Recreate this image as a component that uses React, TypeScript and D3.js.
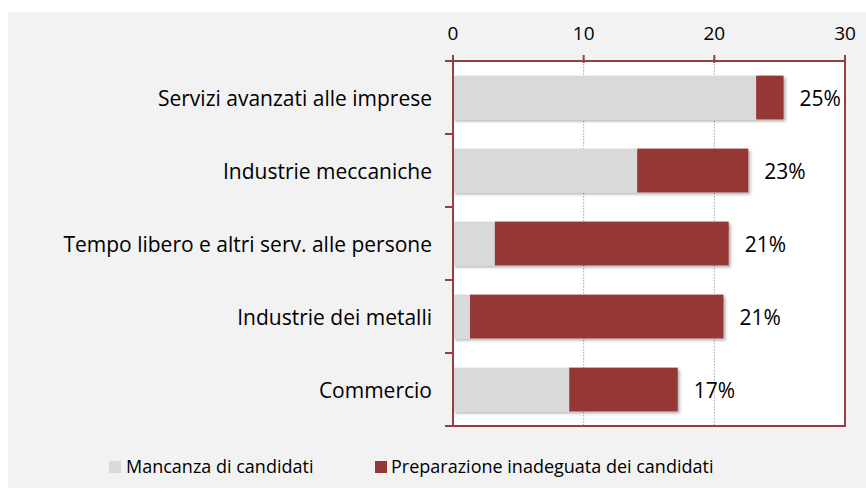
import * as d3 from "d3";

const categories = [
  "Servizi avanzati alle imprese",
  "Industrie meccaniche",
  "Tempo libero e altri serv. alle persone",
  "Industrie dei metalli",
  "Commercio",
];
const mancanza = [23.2, 14.1, 3.2, 1.3, 8.9];
const preparazione = [2.1, 8.5, 17.9, 19.4, 8.3];
const totalLabels = ["25%", "23%", "21%", "21%", "17%"];
const xTicks = [0, 10, 20, 30];
const seriesNames = ["Mancanza di candidati", "Preparazione inadeguata dei candidati"];

const GRAY = "#d9d9d9";
const RED = "#953735";
const AXIS = "#9b3d3d";
const FONT = "'Open Sans', Lato, sans-serif";

export default function App() {
  const width = 866;
  const height = 492;
  const plot = { left: 453, right: 845, top: 61, bottom: 426 };

  const x = d3.scaleLinear().domain([0, 30]).range([plot.left, plot.right]);
  const band = d3
    .scaleBand<string>()
    .domain(categories)
    .range([plot.top, plot.bottom])
    .paddingInner(0.4)
    .paddingOuter(0.2);
  const boundaries = d3
    .range(categories.length + 1)
    .map((i) => plot.top + i * ((plot.bottom - plot.top) / categories.length));

  return (
    <svg
      width={width}
      height={height}
      style={{ position: "absolute", left: 0, top: 0, fontFamily: FONT }}
    >
      <defs>
        <filter id="shadow" x="-5%" y="-20%" width="115%" height="160%">
          <feDropShadow dx="2" dy="2" stdDeviation="1.5" floodColor="#000" floodOpacity="0.3" />
        </filter>
      </defs>
      <rect x={8} y={12} width={858} height={476} fill="#f2f2f2" />
      <rect x={plot.left} y={plot.top} width={plot.right - plot.left} height={plot.bottom - plot.top} fill="#fff" />

      {/* dotted gridlines */}
      {xTicks.slice(1, -1).map((t) => (
        <line
          key={t}
          x1={x(t)}
          x2={x(t)}
          y1={plot.top}
          y2={plot.bottom}
          stroke="#a6a6a6"
          strokeWidth={1}
          strokeDasharray="1.5 1.5"
        />
      ))}

      {/* bars */}
      {categories.map((c, i) => {
        const y = band(c)!;
        const h = band.bandwidth();
        const total = mancanza[i] + preparazione[i];
        return (
          <g key={c}>
            <g filter="url(#shadow)">
              <rect x={x(0)} y={y} width={x(mancanza[i]) - x(0)} height={h} fill={GRAY} />
              <rect x={x(mancanza[i])} y={y} width={x(total) - x(mancanza[i])} height={h} fill={RED} />
            </g>
            <text x={x(total) + 16} y={y + h / 2 + 8} fontSize={21} fill="#000">
              {totalLabels[i]}
            </text>
            <text x={432} y={y + h / 2 + 8} textAnchor="end" fontSize={21} fill="#000">
              {c}
            </text>
          </g>
        );
      })}

      {/* axes frame */}
      <g stroke={AXIS} strokeWidth={2} fill="none">
        <line x1={445} x2={plot.right + 1} y1={plot.top} y2={plot.top} />
        <line x1={445} x2={plot.right + 1} y1={plot.bottom} y2={plot.bottom} />
        <line x1={plot.left} x2={plot.left} y1={plot.top - 6} y2={plot.bottom} />
        <line x1={plot.right} x2={plot.right} y1={plot.top - 6} y2={plot.bottom} />
        {xTicks.map((t) => (
          <line key={t} x1={x(t)} x2={x(t)} y1={plot.top - 6} y2={plot.top + 2} />
        ))}
        {boundaries.map((b, i) => (
          <line key={i} x1={445} x2={plot.left} y1={b} y2={b} />
        ))}
      </g>
      {xTicks.map((t) => (
        <text key={t} x={x(t)} y={40} textAnchor="middle" fontSize={19} fill="#000">
          {t}
        </text>
      ))}

      {/* legend */}
      <rect x={109} y={461} width={12} height={12} fill={GRAY} />
      <text x={126} y={473} fontSize={18} fill="#000">
        {seriesNames[0]}
      </text>
      <rect x={375} y={461} width={12} height={12} fill={RED} />
      <text x={391} y={473} fontSize={18} fill="#000">
        {seriesNames[1]}
      </text>
    </svg>
  );
}
